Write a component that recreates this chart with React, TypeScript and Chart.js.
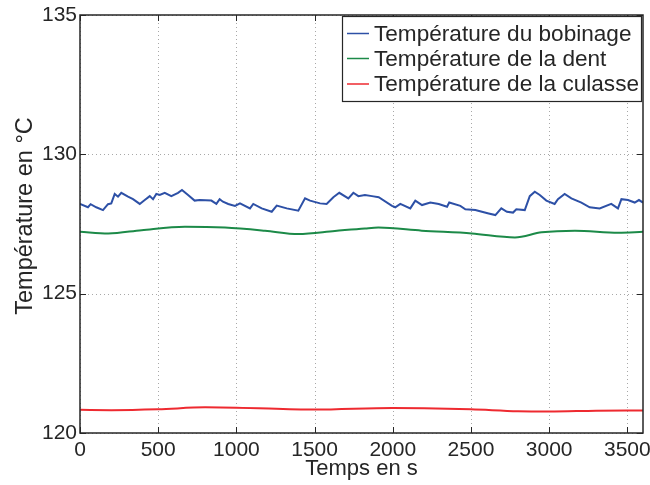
import React, { useEffect, useRef } from "react";
import { Chart, registerables } from "chart.js";

Chart.register(...registerables);

const xTicks = [0, 500, 1000, 1500, 2000, 2500, 3000, 3500];
const yTicks = [120, 125, 130, 135];
const xTitle = "Temps en s";
const yTitle = "Température en °C";
const seriesLabels = [
  "Température du bobinage",
  "Température de la dent",
  "Température de la culasse",
];
const seriesColors = ["#2d50a6", "#1c8a48", "#ee2a30"];

const bobinageT = [
  0, 51, 68, 104, 147, 179, 200, 222, 243, 264, 307, 339, 382, 414, 446, 467,
  488, 510, 542, 584, 627, 652, 691, 733, 765, 840, 872, 893, 914, 948, 991,
  1023, 1087, 1108, 1162, 1226, 1258, 1322, 1396, 1439, 1471, 1535, 1577,
  1620, 1658, 1716, 1748, 1780, 1822, 1867, 1910, 1995, 2016, 2048, 2112,
  2144, 2187, 2240, 2294, 2347, 2361, 2432, 2464, 2528, 2570, 2613, 2656,
  2694, 2730, 2769, 2790, 2844, 2876, 2908, 2940, 2982, 3035, 3056, 3099,
  3142, 3206, 3259, 3323, 3397, 3440, 3462, 3504, 3547, 3574, 3600,
];
const bobinageV = [
  128.22, 128.1, 128.21, 128.1, 128.0, 128.21, 128.24, 128.58, 128.48, 128.62,
  128.48, 128.39, 128.22, 128.36, 128.5, 128.39, 128.58, 128.54, 128.62,
  128.5, 128.62, 128.72, 128.54, 128.34, 128.36, 128.34, 128.22, 128.39,
  128.3, 128.22, 128.15, 128.24, 128.06, 128.22, 128.06, 127.94, 128.16,
  128.06, 127.98, 128.42, 128.34, 128.24, 128.22, 128.46, 128.62, 128.42,
  128.62, 128.5, 128.54, 128.5, 128.46, 128.15, 128.1, 128.22, 128.06, 128.34,
  128.18, 128.27, 128.22, 128.12, 128.27, 128.15, 128.03, 128.0, 127.94,
  127.88, 127.82, 128.06, 127.94, 127.91, 128.03, 128.0, 128.5, 128.66,
  128.54, 128.34, 128.22, 128.39, 128.58, 128.42, 128.27, 128.1, 128.06,
  128.22, 128.06, 128.39, 128.36, 128.27, 128.36, 128.27,
];

const dentT = [0, 181, 394, 671, 927, 1183, 1396, 1630, 1822, 1908, 2185, 2505, 2781, 2952, 3165, 3442, 3600];
const dentV = [127.22, 127.16, 127.28, 127.4, 127.37, 127.26, 127.14, 127.25, 127.34, 127.37, 127.26, 127.16, 127.02, 127.2, 127.26, 127.19, 127.22];

const culasseT = [0, 200, 500, 800, 1000, 1500, 2000, 2200, 2500, 2800, 3000, 3300, 3600];
const culasseV = [120.83, 120.82, 120.85, 120.92, 120.91, 120.84, 120.9, 120.89, 120.85, 120.78, 120.77, 120.8, 120.81];

const FONT = "'Liberation Sans', Arial, Helvetica, sans-serif";
const INK = "#262626";

const matlabPlugin = {
  id: "matlabStyle",
  beforeDatasetsDraw(chart: any) {
    const { ctx, chartArea: a, scales } = chart;
    const x = scales.x;
    const y = scales.y;
    ctx.save();
    ctx.strokeStyle = "#a8a8a8";
    ctx.lineWidth = 1;
    ctx.setLineDash([1, 3]);
    for (const v of xTicks) {
      const px = Math.round(x.getPixelForValue(v)) + 0.5;
      ctx.beginPath();
      ctx.moveTo(px, a.top);
      ctx.lineTo(px, a.bottom);
      ctx.stroke();
    }
    for (const v of yTicks) {
      const py = Math.round(y.getPixelForValue(v)) + 0.5;
      ctx.beginPath();
      ctx.moveTo(a.left, py);
      ctx.lineTo(a.right, py);
      ctx.stroke();
    }
    ctx.restore();
  },
  afterDatasetsDraw(chart: any) {
    const { ctx, chartArea: a, scales } = chart;
    const x = scales.x;
    const y = scales.y;
    ctx.save();
    ctx.setLineDash([]);
    ctx.strokeStyle = INK;
    ctx.lineWidth = 1.5;
    ctx.strokeRect(a.left, a.top, a.right - a.left, a.bottom - a.top);
    const tl = 6;
    ctx.lineWidth = 1;
    for (const v of xTicks) {
      const px = Math.round(x.getPixelForValue(v)) + 0.5;
      ctx.beginPath();
      ctx.moveTo(px, a.bottom);
      ctx.lineTo(px, a.bottom - tl);
      ctx.moveTo(px, a.top);
      ctx.lineTo(px, a.top + tl);
      ctx.stroke();
    }
    for (const v of yTicks) {
      const py = Math.round(y.getPixelForValue(v)) + 0.5;
      ctx.beginPath();
      ctx.moveTo(a.left, py);
      ctx.lineTo(a.left + tl, py);
      ctx.moveTo(a.right, py);
      ctx.lineTo(a.right - tl, py);
      ctx.stroke();
    }

    // Legend
    const lx = 342;
    const ly = 16.5;
    const lw = a.right - 2 - lx;
    const lh = 85;
    ctx.fillStyle = "#ffffff";
    ctx.fillRect(lx, ly, lw, lh);
    ctx.strokeStyle = INK;
    ctx.lineWidth = 1.2;
    ctx.strokeRect(lx + 0.5, ly, lw, lh);
    ctx.font = `22.6px ${FONT}`;
    ctx.textBaseline = "middle";
    ctx.textAlign = "left";
    const rows = [33.5, 58.5, 84];
    seriesLabels.forEach((lab, i) => {
      ctx.strokeStyle = seriesColors[i];
      ctx.lineWidth = 1.5;
      ctx.beginPath();
      ctx.moveTo(347, rows[i]);
      ctx.lineTo(369, rows[i]);
      ctx.stroke();
      ctx.fillStyle = INK;
      ctx.fillText(lab, 374, rows[i] + 1);
    });

    // Axis titles
    ctx.fillStyle = INK;
    ctx.font = `22px ${FONT}`;
    ctx.textAlign = "center";
    ctx.textBaseline = "alphabetic";
    ctx.fillText(xTitle, (a.left + a.right) / 2, 475);
    ctx.save();
    ctx.translate(32, (a.top + a.bottom) / 2 - 8);
    ctx.rotate(-Math.PI / 2);
    ctx.font = `23.5px ${FONT}`;
    ctx.fillText(yTitle, 0, 0);
    ctx.restore();
    ctx.restore();
  },
};

export default function App() {
  const ref = useRef<HTMLCanvasElement | null>(null);
  useEffect(() => {
    if (!ref.current) return;
    const mk = (ts: number[], vs: number[]) => ts.map((t, i) => ({ x: t, y: vs[i] }));
    const chart = new Chart(ref.current, {
      type: "line",
      data: {
        datasets: [
          { label: seriesLabels[0], data: mk(bobinageT, bobinageV), borderColor: seriesColors[0], borderWidth: 2, pointRadius: 0, tension: 0 },
          { label: seriesLabels[1], data: mk(dentT, dentV), borderColor: seriesColors[1], borderWidth: 2, pointRadius: 0, tension: 0.4, cubicInterpolationMode: "monotone" },
          { label: seriesLabels[2], data: mk(culasseT, culasseV), borderColor: seriesColors[2], borderWidth: 2, pointRadius: 0, tension: 0.4, cubicInterpolationMode: "monotone" },
        ],
      },
      options: {
        responsive: false,
        animation: false,
        devicePixelRatio: 1,
        layout: { padding: { top: 15, right: 7, left: 0, bottom: 0 } },
        plugins: { legend: { display: false }, tooltip: { enabled: false } },
        scales: {
          x: {
            type: "linear",
            min: 0,
            max: 3600,
            afterBuildTicks: (s: any) => {
              s.ticks = xTicks.map((v) => ({ value: v }));
            },
            afterFit: (s: any) => {
              s.height = 52;
              s.paddingLeft = 0;
              s.paddingRight = 0;
            },
            grid: { display: false, drawTicks: false },
            border: { display: false },
            ticks: {
              color: INK,
              font: { family: FONT, size: 21 },
              padding: 5,
              maxRotation: 0,
              autoSkip: false,
              callback: (v: any) => String(v),
            },
          },
          y: {
            type: "linear",
            min: 120,
            max: 135,
            afterBuildTicks: (s: any) => {
              s.ticks = yTicks.map((v) => ({ value: v }));
            },
            afterFit: (s: any) => {
              s.width = 80;
              s.paddingTop = 0;
              s.paddingBottom = 0;
            },
            grid: { display: false, drawTicks: false },
            border: { display: false },
            ticks: {
              color: INK,
              font: { family: FONT, size: 21 },
              padding: 3,
              autoSkip: false,
              callback: (v: any) => String(v),
            },
          },
        },
      },
      plugins: [matlabPlugin],
    } as any);
    return () => chart.destroy();
  }, []);
  return (
    <div style={{ position: "fixed", left: 0, top: 0, width: 650, height: 485, background: "#fff" }}>
      <canvas ref={ref} width={650} height={485} style={{ display: "block" }} />
    </div>
  );
}
